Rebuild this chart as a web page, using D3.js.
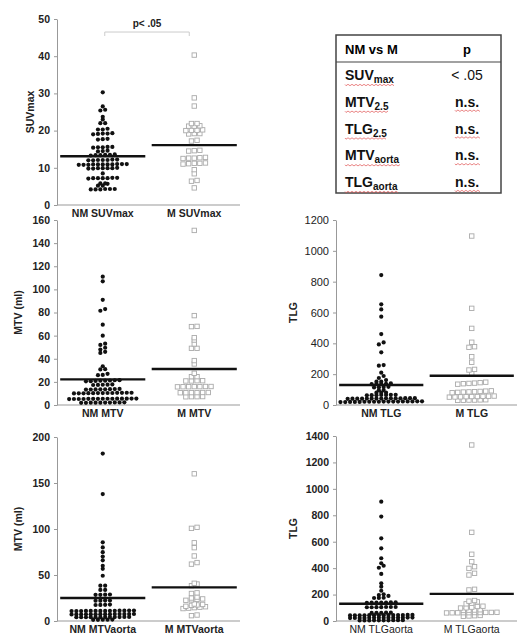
<!DOCTYPE html>
<html>
<head>
<meta charset="utf-8">
<script src="https://cdn.jsdelivr.net/npm/d3@7"></script>
<style>
  body { margin: 0; background: #fff; }
  svg { font-family: "Liberation Sans", Arial, sans-serif; }
  .axis path, .axis line { stroke: #999; }
  .axis text { fill: #222; font-size: 10.5px; font-weight: bold; }
</style>
</head>
<body>
<div id="chart"></div>
<script>
// values
const nmSuv = [30.3, 26.5, 25.6, 25.4, 23.7, 23.0, 22.0, 22.0, 20.5, 20.3, 20.3,
  19.3, 19.2, 19.1, 19.0, 19.2, 17.7, 17.6, 17.8, 15.6, 15.5, 15.4, 15.5, 15.6,
  14.6, 14.5, 14.4, 13.6, 13.5, 13.4, 13.3, 13.5, 13.4, 12.2, 12.1, 12.0, 12.1, 12.2, 12.0, 12.1,
  11.0, 10.9, 10.9, 10.8, 11.0, 10.9, 10.8, 10.9, 11.0, 10.9, 10.8, 9.9, 9.8, 9.9, 10.0, 9.9, 9.8, 9.9,
  8.5, 7.3, 7.2, 7.2, 7.1, 7.2, 7.3, 7.2, 5.8, 5.8, 5.7, 5.2, 5.2, 4.3, 4.2, 4.2, 4.3, 4.2, 4.3]
const mSuv = [40.3, 28.8, 26.6, 21.9, 21.9, 21.2, 21.3, 21.2, 20.1, 20.2, 20.0, 20.1, 19.2, 19.2, 19.1,
  17.4, 17.2, 14.6, 14.5, 14.7, 12.7, 12.6, 12.5, 12.6, 12.8, 11.2, 11.1, 11.3, 11.2, 11.0,
  9.5, 8.4, 6.6, 6.4, 4.6]

const nmMtv = [111, 107, 91, 83, 81.5, 69.5, 60, 53, 52, 49.5, 48, 46, 45, 33.5, 31, 30.8, 27, 26, 25.8,
  21.5, 21.4, 21.2, 21, 21, 20.8, 20.6, 20.5, 17.8, 17.6, 17.5, 17.4, 17.3,
  13.9, 13.8, 13.7, 13.6, 13.6, 13.5, 13.4, 13.3,
  10.6, 10.6, 10.5, 10.5, 10.4, 10.4, 10.3, 10.3, 10.2, 10.2, 10.1, 10.1, 10.0,
  5.6, 5.6, 5.5, 5.5, 5.5, 5.4, 5.4, 5.4, 5.3, 5.3, 5.3, 5.2, 5.2, 5.2, 5.1,
  2.3, 2.2, 2.2, 2.1, 2.1, 2.0, 2.0, 2.0, 1.9, 1.9]
const mMtv = [151, 77.3, 68, 67.8, 58.2, 56.2, 52.8, 49, 49, 38.4, 35.5, 27.4, 24.5, 24.5,
  21, 21, 20.8, 20.8, 16, 16, 15.9, 15.9, 15.8, 15.8, 15.7, 10.8, 10.8, 10.7, 10.7, 10.6, 10.6,
  7.3, 7.2, 7.2, 7.1]

const nmTlg = [843, 653, 620, 573, 460, 406, 393, 342, 259, 255, 210, 188, 175, 162, 151, 151,
  140, 138, 137, 136, 135, 118, 116, 115, 114, 97, 96, 80, 80, 80,
  66, 66, 65, 65, 64, 64, 63,
  44, 44, 44, 43, 43, 43, 43, 42, 42, 42, 42, 41, 41, 41, 40,
  24, 24, 23, 23, 23, 22, 22, 22, 22, 21, 21, 21, 21, 20, 20, 20, 19, 19]
const mTlg = [1096, 627, 497, 407, 378, 374, 313, 277, 231, 227, 205, 148, 145, 142, 140, 138, 135,
  92, 90, 88, 86, 85, 84, 82, 80, 58, 57, 56, 55, 55, 54, 53, 52, 51, 34, 33, 32, 32, 31, 30]

const nmMtvA = [182, 138, 85.5, 80, 74.8, 70, 66, 60, 56.7, 49.2, 38.4, 38.4, 33.8, 33.8,
  28.8, 28.6, 28.5, 28.4, 22.3, 22.2, 22.1, 22.0, 17.8, 17.6, 17.5, 17.4,
  11.3, 11.3, 11.2, 11.2, 11.1, 11.1, 11.0, 11.0, 11.0, 10.9, 10.9, 10.8, 10.8, 10.8,
  7.6, 7.6, 7.5, 7.5, 7.5, 7.4, 7.4, 7.4, 7.3, 7.3, 7.3, 7.2, 7.2, 7.2,
  4.4, 4.4, 4.3, 4.3, 4.3, 4.3, 4.2, 4.2, 4.2, 4.1, 4.1, 4.1,
  1.5, 1.4, 1.4, 1.3, 1.3]
const mMtvA = [160, 101.8, 100.7, 85, 79.7, 70.7, 63.5, 61.8, 41, 40.2, 38.4, 30.6, 29.9,
  26, 25, 24, 23.5, 23, 22.5, 18.5, 18, 17.5, 17, 16, 15.5, 15, 14.5, 14, 13.5, 6.5, 5.8]

const nmTlgA = [903, 790, 626, 550, 475, 437, 418, 403, 356, 285, 260, 229, 202, 196, 190,
  176, 175, 174, 141, 140, 139, 138, 140, 141, 139, 106, 105, 104, 106, 105, 104, 106,
  63, 63, 62, 62, 61,
  46, 46, 45, 45, 45, 45, 44, 44, 44, 44, 43, 43, 43, 42,
  26, 26, 25, 25, 25, 25, 24, 24, 24, 24, 23, 23, 23, 22,
  6, 6, 6, 5, 5, 5, 5, 4, 4, 4]
const mTlgA = [1332, 671, 505, 449, 411, 398, 361, 348, 240, 235, 155, 150, 145, 135, 130,
  112, 110, 105, 100, 98, 85, 83, 82, 80, 66, 65, 65, 64, 64, 63, 63, 62, 62, 61, 42, 40, 38, 36]

// group means (the black bars)
const meansSuv = [13.1, 16.1]
const meansMtv = [22.2, 31.1]
const meansTlg = [130, 190]
const meansMtvA = [25, 36.5]
const meansTlgA = [130, 205]

// table
const tableHead = ["NM vs M", "p"]
const tableRows = [["SUV", "max", "< .05"], ["MTV", "2.5", "n.s."], ["TLG", "2.5", "n.s."], ["MTV", "aorta", "n.s."], ["TLG", "aorta", "n.s."]]

const W = 518, H = 635

const svg = d3.select("#chart").append("svg")
  .attr("width", W)
  .attr("height", H)

// dot plot layout: group near-equal values into rows, spread each row around the centre
const rowLayout = (vals, y, cx, s, rowH) => {
  const pts = vals.map(v => ({ v: v, y: y(v) })).sort((a, b) => b.y - a.y)
  const out = []
  let row = []
  const flush = () => {
    row.forEach((p, i) => {
      p.x = cx + (i - (row.length - 1) / 2) * s
      out.push(p)
    })
    row = []
  }
  pts.forEach(p => {
    if (row.length && row[0].y - p.y > rowH) flush()
    row.push(p)
  })
  flush()
  return out
}

const panels = [
  { left: 57, right: 240, top: 19, bottom: 205, max: 50, step: 10, cats: ["NM SUVmax", "M SUVmax"], nm: nmSuv, m: mSuv, means: meansSuv, title: "SUVmax", tx: 30, catBold: true },
  { left: 57, right: 240, top: 220, bottom: 405, max: 160, step: 20, cats: ["NM MTV", "M MTV"], nm: nmMtv, m: mMtv, means: meansMtv, title: "MTV (ml)", tx: 18, catBold: true },
  { left: 336, right: 517, top: 220, bottom: 405, max: 1200, step: 200, cats: ["NM TLG", "M TLG"], nm: nmTlg, m: mTlg, means: meansTlg, title: "TLG", tx: 293, catBold: true, thin: true },
  { left: 57, right: 240, top: 437, bottom: 621, max: 200, step: 50, cats: ["NM MTVaorta", "M MTVaorta"], nm: nmMtvA, m: mMtvA, means: meansMtvA, title: "MTV (ml)", tx: 18, catBold: true },
  { left: 336, right: 517, top: 436, bottom: 621, max: 1400, step: 200, cats: ["NM TLGaorta", "M TLGaorta"], nm: nmTlgA, m: mTlgA, means: meansTlgA, title: "TLG", tx: 293, catBold: false }
]

panels.forEach(p => {
  const y = d3.scaleLinear().domain([0, p.max]).range([p.bottom, p.top])
  const x = d3.scaleBand().domain(p.cats).range([p.left, p.right])
  const g = svg.append("g")

  const ax = g.append("g")
    .attr("class", "axis")
    .attr("transform", `translate(${p.left},0)`)
    .call(d3.axisLeft(y).tickValues(d3.range(0, p.max + 1, p.step)).tickFormat(d3.format("d"))
      .tickSize(3).tickPadding(4).tickSizeOuter(0))
  if (p.thin) ax.selectAll("text").style("font-weight", "normal").style("font-size", "11px")

  g.append("line")
    .attr("x1", p.left).attr("x2", p.right)
    .attr("y1", p.bottom).attr("y2", p.bottom)
    .attr("stroke", "#999")

  g.append("text")
    .attr("transform", `translate(${p.tx},${(p.top + p.bottom) / 2}) rotate(-90)`)
    .attr("text-anchor", "middle")
    .attr("dy", "0.35em")
    .style("font-size", "10.5px")
    .style("font-weight", "bold")
    .attr("fill", "#222")
    .text(p.title)

  g.selectAll(".cat")
    .data(p.cats)
    .enter()
    .append("text")
    .attr("x", d => x(d) + x.bandwidth() / 2)
    .attr("y", p.bottom + 12)
    .attr("text-anchor", "middle")
    .style("font-size", "10.5px")
    .style("font-weight", p.catBold ? "bold" : "normal")
    .attr("fill", "#222")
    .text(d => d)

  const bw = x.bandwidth()
  const nmPts = rowLayout(p.nm, y, x(p.cats[0]) + bw / 2, 4.8, 2.2)
  const mPts = rowLayout(p.m, y, x(p.cats[1]) + bw / 2, 5.6, 2.2)

  g.selectAll(".nm")
    .data(nmPts)
    .enter()
    .append("circle")
    .attr("cx", d => d.x)
    .attr("cy", d => d.y)
    .attr("r", 2.1)
    .attr("fill", "#111")

  g.selectAll(".m")
    .data(mPts)
    .enter()
    .append("rect")
    .attr("x", d => d.x - 2.2)
    .attr("y", d => d.y - 2.2)
    .attr("width", 4.4)
    .attr("height", 4.4)
    .attr("fill", "#fff")
    .attr("stroke", "#aaa")
    .attr("stroke-width", 0.9)

  g.selectAll(".mean")
    .data(p.means)
    .enter()
    .append("line")
    .attr("x1", (d, i) => x(p.cats[i]) + bw * 0.035)
    .attr("x2", (d, i) => x(p.cats[i]) + bw * 0.965)
    .attr("y1", d => y(d))
    .attr("y2", d => y(d))
    .attr("stroke", "#111")
    .attr("stroke-width", 2.4)

  // significance bracket on the first panel
  if (p.title === "SUVmax") {
    const c0 = x(p.cats[0]) + bw / 2 + 2, c1 = x(p.cats[1]) + bw / 2 - 5
    const by = y(46.5)
    g.append("path")
      .attr("d", `M${c0},${by + 4}V${by}H${c1}V${by + 4}`)
      .attr("fill", "none")
      .attr("stroke", "#ccc")
    g.append("text")
      .attr("x", (c0 + c1) / 2)
      .attr("y", by - 5)
      .attr("text-anchor", "middle")
      .style("font-size", "10px")
      .style("font-weight", "bold")
      .attr("fill", "#222")
      .text("p< .05")
  }
})

// p-value table
const tb = svg.append("g")
tb.append("rect")
  .attr("x", 336).attr("y", 35)
  .attr("width", 165).attr("height", 158)
  .attr("fill", "none")
  .attr("stroke", "#444")
  .attr("stroke-width", 1.5)
tb.append("line")
  .attr("x1", 336).attr("x2", 501)
  .attr("y1", 62).attr("y2", 62)
  .attr("stroke", "#444")
  .attr("stroke-width", 1.2)
tb.append("text").attr("x", 345).attr("y", 54)
  .style("font-size", "13px").style("font-weight", "bold").text(tableHead[0])
tb.append("text").attr("x", 467).attr("y", 54).attr("text-anchor", "middle")
  .style("font-size", "13px").style("font-weight", "bold").text(tableHead[1])

const rowY = d3.scalePoint().domain(d3.range(tableRows.length)).range([80, 187])
const wavy = (x0, x1, yy) => {
  let s = `M${x0},${yy}`
  for (let xx = x0; xx < x1; xx += 2) s += `L${xx + 1},${yy + ((xx - x0) / 2 % 2 === 0 ? 1.2 : -0.2)}`
  return s
}
tableRows.forEach((r, i) => {
  const yy = rowY(i)
  const t = tb.append("text").attr("x", 345).attr("y", yy)
    .style("font-size", "14px").style("font-weight", "bold").attr("fill", "#111")
  t.append("tspan").text(r[0])
  t.append("tspan").attr("dy", 3).style("font-size", "10px").text(r[1])
  const len = t.node().getComputedTextLength()
  tb.append("path").attr("d", wavy(345, 345 + len, yy + 4.5))
    .attr("fill", "none").attr("stroke", "#e05050").attr("stroke-width", 0.7)
  const pv = tb.append("text").attr("x", 467).attr("y", yy).attr("text-anchor", "middle")
    .style("font-size", "14px").style("font-weight", i === 0 ? "normal" : "bold").attr("fill", "#111")
    .text(r[2])
  if (r[2] === "n.s.") {
    const pl = pv.node().getComputedTextLength()
    tb.append("path").attr("d", wavy(467 - pl / 2, 467 + pl / 2, yy + 3.5))
      .attr("fill", "none").attr("stroke", "#e05050").attr("stroke-width", 0.7)
  }
})
</script>
</body>
</html>
